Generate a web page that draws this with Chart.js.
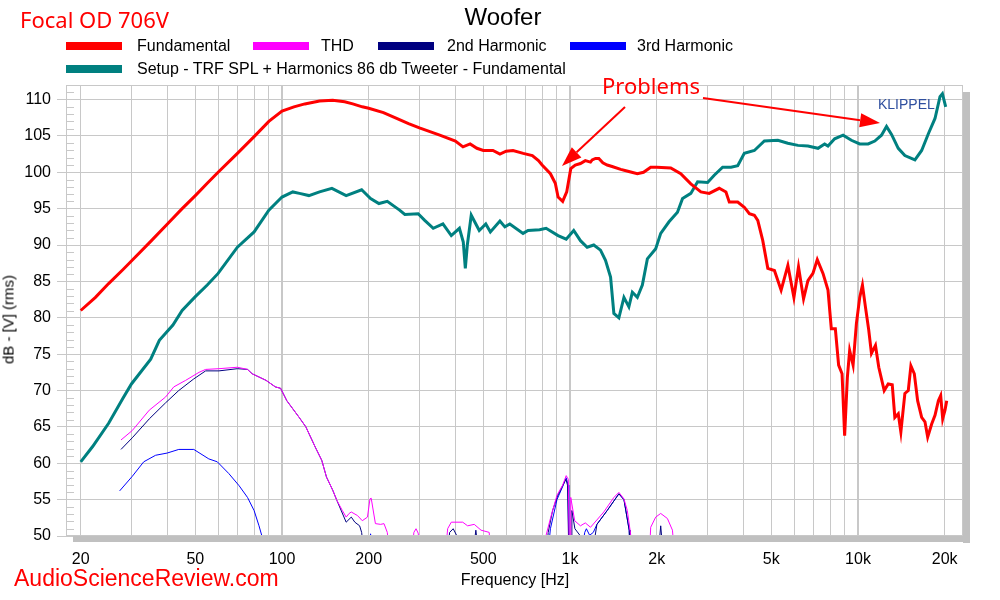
<!DOCTYPE html>
<html lang="en">
<head>
  <meta charset="UTF-8" />
  <title>Focal OD 706V - Woofer</title>
  <script src="https://cdn.jsdelivr.net/npm/chart.js"></script>
  <style>
    body   { margin:0; background:#fff; font-family:"Liberation Sans", Arial, sans-serif; }
    #wrap  { position:relative; width:1000px; height:600px; }
    canvas { position:absolute; left:0; top:0; }
    .txt   { position:absolute; white-space:nowrap; line-height:1; }
    .sw    { position:absolute; height:8px; width:56px; }
  </style>
</head>
<body>
<div id="wrap">
  <canvas id="fr" width="1000" height="600"></canvas>

  <div class="txt" style="left:20px;top:4px;font:22px 'Noto Sans';color:#f00;">Focal OD 706V</div>
  <div class="txt" style="left:0;width:1006px;text-align:center;top:3px;font:24px 'Liberation Sans';">Woofer</div>

  <div class="sw" style="left:66px;top:42px;background:#f00;"></div>
  <div class="txt" style="left:137px;top:38px;font-size:16px;">Fundamental</div>
  <div class="sw" style="left:253px;top:42px;background:#f0f;"></div>
  <div class="txt" style="left:321px;top:38px;font-size:16px;">THD</div>
  <div class="sw" style="left:378px;top:42px;background:#000080;"></div>
  <div class="txt" style="left:447px;top:38px;font-size:16px;">2nd Harmonic</div>
  <div class="sw" style="left:570px;top:42px;background:#00f;"></div>
  <div class="txt" style="left:637px;top:38px;font-size:16px;">3rd Harmonic</div>
  <div class="sw" style="left:66px;top:65px;background:#008080;"></div>
  <div class="txt" style="left:137px;top:61px;font-size:16px;">Setup - TRF SPL + Harmonics 86 db Tweeter - Fundamental</div>

  <div class="txt" style="left:602px;top:70px;font:22px 'Noto Sans';color:#f00;">Problems</div>
  <div class="txt" style="left:878px;top:96px;font:14px 'Liberation Sans';color:#2f4f9f;">KLIPPEL</div>

  <div class="txt" style="left:0;width:1030px;text-align:center;top:572px;font-size:16px;">Frequency [Hz]</div>
  <div class="txt" style="left:-52px;top:312px;width:120px;text-align:center;font-size:15px;transform:rotate(-90deg);">dB - [V] (rms)</div>
  <div class="txt" style="left:14px;top:565px;font:23px 'Liberation Sans';color:#f00;">AudioScienceReview.com</div>
</div>

<script>
  /* ---------- data (Hz / dB) ---------- */
  const fundFreq = [20,22.5,25,28,30,35,40,45,50,55,60,70,80,90,100,110,120,135,150,165,176,190,200,225,250,275,300,353,400,425,450,475,500,540,571,600,634,688,740,777,800,855,889,909,943,974,
    1006,1043,1087,1130,1178,1194,1226,1259,1300,1346,1400,1500,1600,1713,1800,1906,2000,2238,2424,2627,2847,3043,3297,3479,3573,3822,4029,4195,4366,4487,4670,
    4861,5126,5408,5708,5990,6214,6470,6700,6974,7220,7558,7866,8078,8342,8564,8802,8986,9184,9354,9614,9872,10138,10360,10610,10896,11134,11498,11806,12330,12732,
    13148,13424,13796,14086,14546,14948,15264,15686,16106,16634,17080,17454,18022,18506,19014,19368,19680,20046,20324];
  const fundDb   = [81.0,82.8,84.7,86.6,87.8,90.5,92.9,95.0,96.8,98.5,100.0,102.6,104.9,107.0,108.4,109.0,109.4,109.8,109.9,109.7,109.4,109.0,108.8,108.2,107.4,106.7,106.1,105.1,104.3,103.5,103.9,103.3,103.0,103.0,102.5,102.9,103.0,102.6,102.3,101.6,101.0,99.8,98.5,96.6,96.0,97.3,
    100.5,101.0,101.2,101.6,101.4,101.7,101.9,101.9,101.3,101.0,100.8,100.4,100.1,99.8,100.0,100.7,100.7,100.6,99.8,98.4,97.3,97.1,97.8,97.3,95.9,95.9,95.2,94.3,94.1,93.4,90.6,
    86.8,86.5,83.8,87.2,82.8,87.0,82.6,85.1,86.1,88.0,86.1,83.8,78.5,78.5,73.5,72.3,63.8,71.8,75.5,73.5,79.2,82.8,84.5,81.5,78.3,75.1,76.2,73.2,70.0,70.9,
    70.8,66.3,66.8,64.3,69.6,70.0,73.4,72.3,68.6,66.3,65.7,63.6,65.4,66.6,68.6,69.3,66.1,67.3,68.6];

  const setupFreq = [20,22,25,28,30,35,37.5,41.8,45,50,55,60,70,80,90,100,109,115,124,135,149,167,189,203,217,232,256,267,297,313,335,362,387,413,426,433,440,454,484,510,529,571,594,618,687,715,784,826,909,970,
    1030,1087,1147,1209,1276,1328,1383,1420,1478,1539,1601,1646,1713,1783,1856,1984,2065,2207,2361,2459,2627,2773,3004,3168,3388,3622,3822,4029,4366,4730,5268,5706,6185,6700,7261,7656,7866,8296,8876,9485,10138,10843,
    11436,12064,12560,13073,13796,14546,15762,16634,17550,18506,19260,19635,20160];
  const setupDb   = [60.2,62.3,65.5,68.9,70.9,74.3,76.9,79.0,81.0,82.9,84.5,86.1,89.7,91.8,94.8,96.6,97.3,97.1,96.8,97.3,97.8,96.8,97.6,96.4,95.7,96.0,94.8,94.2,94.3,93.4,92.3,92.9,91.3,92.3,90.4,86.8,90.0,94.1,92.0,92.9,91.8,93.3,92.5,92.9,91.6,92.0,92.1,92.3,91.3,90.8,
    92.0,90.6,89.7,90.0,89.3,87.9,85.6,80.6,80.0,82.8,81.5,83.5,82.8,84.5,88.1,89.5,91.6,93.2,94.5,96.4,97.1,98.7,98.6,99.6,100.7,100.7,100.9,102.6,103.0,104.3,104.4,104.0,103.7,103.6,103.3,103.9,103.6,104.6,105.1,104.4,103.9,103.9,
    104.3,105.1,106.3,105.2,103.3,102.3,101.7,103.0,105.3,107.4,110.4,110.8,109.0];

  const thdFreq = [27.6,30.2,34.6,39.4,42.1,46.3,51.5,54.3,60.4,70,75.9,78.8,88,94.8,98.9,103.9,114.7,121,130.5,137.4,142.7,150,155,162,167,171,174,183,190,198,202,204,211,220,226,232,236,
    283,287,292,297,302,370,376,387,424,441,465,491,524,530,820,826,855,901,943,970,986,995,1003,1006,1038,1087,1130,1178,1310,1420,1478,1539,1581,1623,1635,1890,1906,1984,2065,2179,2268,2300];
  const thdDb   = [63.2,64.5,67.3,69.1,70.5,71.4,72.5,72.9,73.0,73.2,72.9,72.3,71.4,70.5,70.3,68.6,66.3,65.0,62.2,60.4,58.1,56.3,54.9,53.5,52.6,53.1,53.3,52.8,52.1,52.6,55.1,55.2,51.7,51.6,51.7,50.5,48,
    48,50.5,51.0,50.4,48,48,51.0,51.9,51.9,51.4,51.6,50.8,50.5,48,48,50.1,52.4,55.6,57.0,58.3,57.8,48,48,55.3,52.1,51.4,51.8,51.2,53.3,55.3,56.0,55.1,53.5,50.3,48,48,51.2,52.6,53.1,52.4,50.8,48];

  const h2Freq = [27.6,30.2,34.6,39.4,43.8,49.4,54.3,60.4,70,75.9,78.8,88,94.8,98.9,103.9,114.7,121,130.5,137.4,142.7,150,155,167,174,179,186,189,192,
    376,382,393,405,410,462,471,480,830,840,870,905,945,968,980,990,1010,1015,1040,1087,1100,1200,1240,1346,1478,1539,1605,1615,2030,2065,2100];
  const h2Db   = [61.9,63.5,66.1,68.3,70.0,71.6,72.7,72.7,73.0,72.9,72.3,71.4,70.5,70.3,68.6,66.3,65.0,62.2,60.4,58.1,56.3,54.9,51.9,52.6,51.9,51.4,50.5,48,
    48,50.5,51.0,50.0,48,48,50.8,48,48,50.5,53.5,55.5,57.0,57.8,57.0,48,48,53.5,51.0,50.0,48,48,51.6,53.5,55.8,55.0,50.8,48,48,51.4,48];

  const h3Freq = [27.3,30.2,33.1,36.4,39.9,43.8,49.4,55.7,59.6,65.3,71,75.9,80,83.2,85,87,200,203,206,840,855,901,943,970,985,990,1100,1125,1140,1170,1205,1240,1346,1478,1539,1605,1615];
  const h3Db   = [56.2,58.2,60.2,61.1,61.4,61.9,61.9,60.6,60.2,58.6,56.9,55.3,53.5,51.4,50.1,47,48,50.3,48,48,51.0,55.0,56.8,58.0,57.0,48,48,50.5,51.0,50.1,50.5,51.6,53.5,55.8,55.0,50.8,48];

  const freqTicks   = [20,30,40,50,60,70,80,90,100,200,300,400,500,600,700,800,900,1000,2000,3000,4000,5000,6000,7000,8000,9000,10000,20000];
  const freqLabeled = [20,50,100,200,500,1000,2000,5000,10000,20000];
  const freqText    = ['20','50','100','200','500','1k','2k','5k','10k','20k'];
  const dbTicks     = [50,55,60,65,70,75,80,85,90,95,100,105,110];

  const pts = (fs, ds) => fs.map((f, i) => ({ x: f, y: ds[i] }));
  const GRID = '#c8c8c8';

  /* ---------- frame, minor ticks, arrows ---------- */
  const extras = {
    id: 'extras',
    afterDraw(chart) {
      const { ctx, chartArea: a, scales: { y } } = chart;
      ctx.save();
      // shadow
      ctx.fillStyle = '#c0c0c0';
      ctx.fillRect(a.right, a.top + 7, 7, a.bottom - a.top);
      ctx.fillRect(a.left + 7, a.bottom, a.right - a.left, 6);
      // frame
      ctx.strokeStyle = GRID; ctx.lineWidth = 1;
      ctx.strokeRect(a.left + .5, a.top + .5, a.right - a.left - 1, a.bottom - a.top - 1);
      // minor y ticks
      ctx.beginPath();
      for (let v = 51; v < 112; v++) {
        if (v % 5 === 0) continue;
        const py = Math.round(y.getPixelForValue(v)) + .5;
        ctx.moveTo(a.left, py); ctx.lineTo(a.left + 8, py);
      }
      ctx.stroke();
      // arrows
      const arrow = (x1, y1, x2, y2) => {
        const ang = Math.atan2(y2 - y1, x2 - x1), L = 20, W = 7;
        ctx.strokeStyle = '#f00'; ctx.fillStyle = '#f00'; ctx.lineWidth = 2;
        ctx.beginPath(); ctx.moveTo(x1, y1);
        ctx.lineTo(x2 - L * Math.cos(ang), y2 - L * Math.sin(ang)); ctx.stroke();
        ctx.beginPath(); ctx.moveTo(x2, y2);
        ctx.lineTo(x2 - L * Math.cos(ang) + W * Math.sin(ang), y2 - L * Math.sin(ang) - W * Math.cos(ang));
        ctx.lineTo(x2 - L * Math.cos(ang) - W * Math.sin(ang), y2 - L * Math.sin(ang) + W * Math.cos(ang));
        ctx.closePath(); ctx.fill();
      };
      arrow(625, 107, 562, 166);
      arrow(703, 98, 880, 123);
      ctx.restore();
    }
  };

  const tickFont = { family: 'Liberation Sans', size: 16 };

  new Chart(document.getElementById('fr').getContext('2d'), {
    type: 'line',
    data: {
      datasets: [
        { label: 'THD', data: pts(thdFreq, thdDb), borderColor: '#ff00ff', borderWidth: 1, order: 0 },
        { label: '2nd Harmonic', data: pts(h2Freq, h2Db), borderColor: '#000080', borderWidth: 1, order: 0 },
        { label: '3rd Harmonic', data: pts(h3Freq, h3Db), borderColor: '#0000ff', borderWidth: 1, order: 0 },
        { label: 'Fundamental', data: pts(fundFreq, fundDb), borderColor: '#ff0000', borderWidth: 3, order: 1 },
        { label: 'Setup - TRF SPL + Harmonics 86 db Tweeter - Fundamental', data: pts(setupFreq, setupDb), borderColor: '#008080', borderWidth: 3, order: 2 }
      ]
    },
    options: {
      responsive: false, animation: false,
      layout: { padding: { top: 85, right: 37, left: 0, bottom: 0 } },
      elements: { point: { radius: 0 }, line: { tension: 0 } },
      plugins: { legend: { display: false }, tooltip: { enabled: false } },
      scales: {
        x: {
          type: 'logarithmic', min: 17.78, max: 23150,
          afterBuildTicks: s => { s.ticks = freqTicks.map(v => ({ value: v })); },
          afterFit: s => { s.height = 64; },
          grid: { color: GRID, drawTicks: false,
                  lineWidth: c => [100, 1000, 10000].includes(c.tick && c.tick.value) ? 2 : 1 },
          border: { color: GRID },
          ticks: { autoSkip: false, maxRotation: 0, padding: 14, color: '#000', font: tickFont,
                   callback: v => { const i = freqLabeled.indexOf(v); return i < 0 ? '' : freqText[i]; } }
        },
        y: {
          min: 50, max: 112,
          afterBuildTicks: s => { s.ticks = dbTicks.map(v => ({ value: v })); },
          afterFit: s => { s.width = 66; },
          grid: { color: GRID, tickLength: 9 },
          border: { color: GRID },
          ticks: { padding: 6, color: '#000', font: tickFont }
        }
      }
    },
    plugins: [extras]
  });
</script>
</body>
</html>
